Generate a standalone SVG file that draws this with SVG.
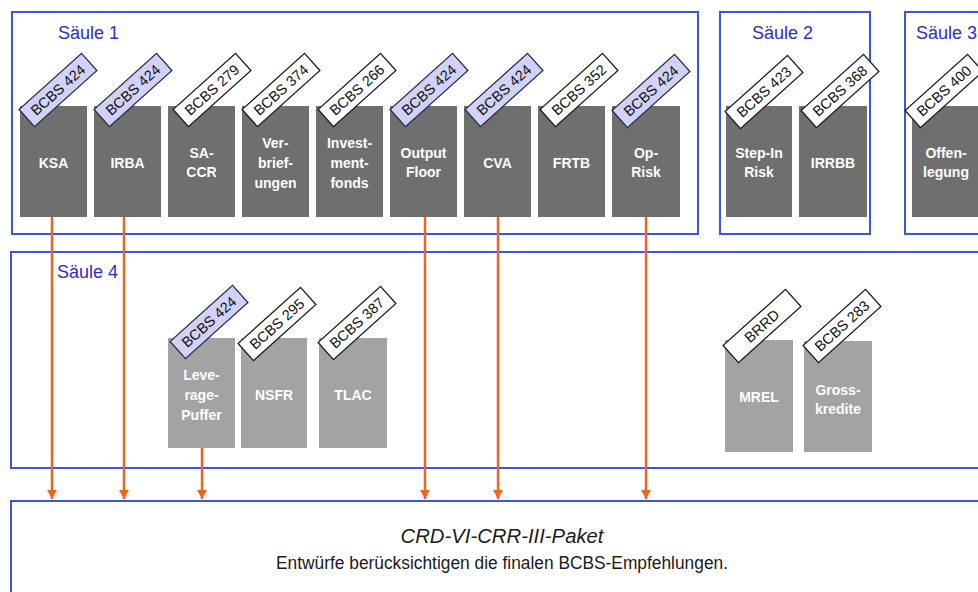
<svg xmlns="http://www.w3.org/2000/svg" width="978" height="592" viewBox="0 0 978 592">
<defs>
<style>
.frame{fill:none;stroke:#3c55e0;stroke-width:2}
.saeule{font-family:"Liberation Sans",Arial,sans-serif;font-size:18px;fill:#2b2bd8}
.dk{fill:#6f6f6f}
.lt{fill:#a3a3a3}
.lbl{font-family:"Liberation Sans",Arial,sans-serif;font-size:14px;font-weight:bold;fill:#ffffff;text-anchor:middle}
.tagw{fill:#ffffff;stroke:#1a1a1a;stroke-width:1.3}
.tagp{fill:#d2d2f6;stroke:#2a2a4a;stroke-width:1.3}
.tagt{font-family:"Liberation Sans",Arial,sans-serif;font-size:14.5px;fill:#111111;text-anchor:middle}
.arr{stroke:#f0641e;stroke-width:2.5;fill:none;marker-end:url(#ah)}
.main{font-family:"Liberation Sans",Arial,sans-serif;fill:#1a1a1a;text-anchor:middle}
</style>
<marker id="ah" markerUnits="userSpaceOnUse" markerWidth="10" markerHeight="10" refX="9" refY="5" orient="auto">
<path d="M0,0 L9,5 L0,10 z" fill="#f0641e"/>
</marker>
</defs>
<rect x="0" y="0" width="978" height="592" fill="#ffffff"/>

<g id="frames">
<rect class="frame" x="12" y="12" width="686" height="222"/>
<rect class="frame" x="720" y="12" width="150" height="222"/>
<rect class="frame" x="905" y="12" width="100" height="222"/>
<rect class="frame" x="11" y="252" width="1000" height="216"/>
<rect class="frame" x="11" y="501" width="1000" height="120"/>
<text class="saeule" x="58" y="39">Säule 1</text>
<text class="saeule" x="752" y="39">Säule 2</text>
<text class="saeule" x="916" y="39">Säule 3</text>
<text class="saeule" x="57" y="278">Säule 4</text>
</g>

<g id="ksa"><rect class="dk" x="20" y="106" width="67" height="111"/><text class="lbl" x="53.5" y="168">KSA</text>
<g transform="translate(58,90) rotate(-42)"><rect class="tagp" x="-42" y="-11.5" width="84" height="23"/><text class="tagt" y="5">BCBS 424</text></g></g>

<g id="irba"><rect class="dk" x="94" y="106" width="67" height="111"/><text class="lbl" x="127.5" y="168">IRBA</text>
<g transform="translate(133,90) rotate(-42)"><rect class="tagp" x="-42" y="-11.5" width="84" height="23"/><text class="tagt" y="5">BCBS 424</text></g></g>

<g id="saccr"><rect class="dk" x="168" y="106" width="67" height="111"/><text class="lbl" x="201.5" y="158">SA-</text><text class="lbl" x="201.5" y="177">CCR</text>
<g transform="translate(212,90) rotate(-42)"><rect class="tagw" x="-42" y="-11.5" width="84" height="23"/><text class="tagt" y="5">BCBS 279</text></g></g>

<g id="verbriefungen"><rect class="dk" x="242" y="106" width="67" height="111"/><text class="lbl" x="275.5" y="148">Ver-</text><text class="lbl" x="275.5" y="168">brief-</text><text class="lbl" x="275.5" y="188">ungen</text>
<g transform="translate(281,90) rotate(-42)"><rect class="tagw" x="-42" y="-11.5" width="84" height="23"/><text class="tagt" y="5">BCBS 374</text></g></g>

<g id="investmentfonds"><rect class="dk" x="316" y="106" width="67" height="111"/><text class="lbl" x="349.5" y="148">Invest-</text><text class="lbl" x="349.5" y="168">ment-</text><text class="lbl" x="349.5" y="188">fonds</text>
<g transform="translate(357,90) rotate(-42)"><rect class="tagw" x="-42" y="-11.5" width="84" height="23"/><text class="tagt" y="5">BCBS 266</text></g></g>

<g id="outputfloor"><rect class="dk" x="390" y="106" width="67" height="111"/><text class="lbl" x="423.5" y="158">Output</text><text class="lbl" x="423.5" y="177">Floor</text>
<g transform="translate(429,90) rotate(-42)"><rect class="tagp" x="-42" y="-11.5" width="84" height="23"/><text class="tagt" y="5">BCBS 424</text></g></g>

<g id="cva"><rect class="dk" x="464" y="106" width="67" height="111"/><text class="lbl" x="497.5" y="168">CVA</text>
<g transform="translate(504,90) rotate(-42)"><rect class="tagp" x="-42" y="-11.5" width="84" height="23"/><text class="tagt" y="5">BCBS 424</text></g></g>

<g id="frtb"><rect class="dk" x="538" y="106" width="67" height="111"/><text class="lbl" x="571.5" y="168">FRTB</text>
<g transform="translate(579,90) rotate(-42)"><rect class="tagw" x="-42" y="-11.5" width="84" height="23"/><text class="tagt" y="5">BCBS 352</text></g></g>

<g id="oprisk"><rect class="dk" x="612" y="106" width="68" height="111"/><text class="lbl" x="646" y="158">Op-</text><text class="lbl" x="646" y="177">Risk</text>
<g transform="translate(651,91) rotate(-42)"><rect class="tagp" x="-42" y="-11.5" width="84" height="23"/><text class="tagt" y="5">BCBS 424</text></g></g>

<g id="stepinrisk"><rect class="dk" x="726" y="106" width="66" height="111"/><text class="lbl" x="759" y="158">Step-In</text><text class="lbl" x="759" y="177">Risk</text>
<g transform="translate(764,92) rotate(-42)"><rect class="tagw" x="-42" y="-11.5" width="84" height="23"/><text class="tagt" y="5">BCBS 423</text></g></g>

<g id="irrbb"><rect class="dk" x="799" y="106" width="68" height="111"/><text class="lbl" x="833" y="168">IRRBB</text>
<g transform="translate(840,91) rotate(-42)"><rect class="tagw" x="-42" y="-11.5" width="84" height="23"/><text class="tagt" y="5">BCBS 368</text></g></g>

<g id="offenlegung"><rect class="dk" x="912" y="106" width="67" height="111"/><text class="lbl" x="946" y="158">Offen-</text><text class="lbl" x="946" y="177">legung</text>
<g transform="translate(944,91) rotate(-42)"><rect class="tagw" x="-42" y="-11.5" width="84" height="23"/><text class="tagt" y="5">BCBS 400</text></g></g>

<g id="leveragepuffer"><rect class="lt" x="168" y="338" width="67" height="110"/><text class="lbl" x="201.5" y="380">Leve-</text><text class="lbl" x="201.5" y="400">rage-</text><text class="lbl" x="201.5" y="420">Puffer</text>
<g transform="translate(209,322) rotate(-42)"><rect class="tagp" x="-42" y="-11.5" width="84" height="23"/><text class="tagt" y="5">BCBS 424</text></g></g>

<g id="nsfr"><rect class="lt" x="241" y="338" width="66" height="110"/><text class="lbl" x="274" y="400">NSFR</text>
<g transform="translate(277,324) rotate(-42)"><rect class="tagw" x="-42" y="-11.5" width="84" height="23"/><text class="tagt" y="5">BCBS 295</text></g></g>

<g id="tlac"><rect class="lt" x="319" y="338" width="68" height="110"/><text class="lbl" x="353" y="400">TLAC</text>
<g transform="translate(357,323) rotate(-42)"><rect class="tagw" x="-42" y="-11.5" width="84" height="23"/><text class="tagt" y="5">BCBS 387</text></g></g>

<g id="mrel"><rect class="lt" x="725" y="340" width="68" height="112"/><text class="lbl" x="759" y="402">MREL</text>
<g transform="translate(762,326) rotate(-42)"><rect class="tagw" x="-42" y="-11.5" width="84" height="23"/><text class="tagt" y="5">BRRD</text></g></g>

<g id="grosskredite"><rect class="lt" x="804" y="341" width="68" height="111"/><text class="lbl" x="838" y="395">Gross-</text><text class="lbl" x="838" y="414">kredite</text>
<g transform="translate(842,326) rotate(-42)"><rect class="tagw" x="-42" y="-11.5" width="84" height="23"/><text class="tagt" y="5">BCBS 283</text></g></g>

<g id="paket">
<text class="main" x="502" y="543" font-size="20" font-style="italic" textLength="203" lengthAdjust="spacingAndGlyphs">CRD-VI-CRR-III-Paket</text>
<text class="main" x="502" y="569" font-size="17.5" textLength="452" lengthAdjust="spacingAndGlyphs">Entwürfe berücksichtigen die finalen BCBS-Empfehlungen.</text>
</g>

<g id="connectors">
<line class="arr" x1="52" y1="217" x2="52" y2="499"/>
<line class="arr" x1="124" y1="217" x2="124" y2="499"/>
<line class="arr" x1="202" y1="448" x2="202" y2="499"/>
<line class="arr" x1="425" y1="217" x2="425" y2="499"/>
<line class="arr" x1="498" y1="217" x2="498" y2="499"/>
<line class="arr" x1="646" y1="217" x2="646" y2="499"/>
</g>
</svg>
